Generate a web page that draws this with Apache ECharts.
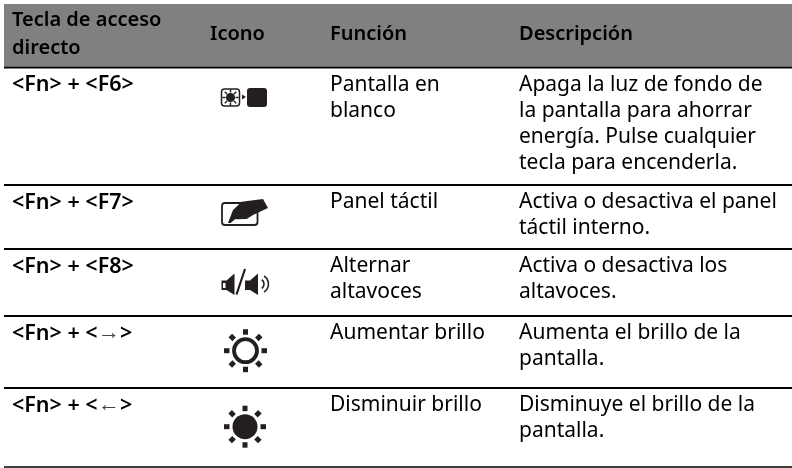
<!DOCTYPE html>
<html>
<head>
<meta charset="utf-8">
<style>
html, body { margin: 0; padding: 0; background: #fff; }
#main { width: 792px; height: 468px; }
</style>
<script src="https://cdn.jsdelivr.net/npm/echarts@6/dist/echarts.min.js"></script>
</head>
<body>
<div id="main"></div>
<script>
// contenido de la tabla
const headers = ['Tecla de acceso\ndirecto', 'Icono', 'Función', 'Descripción'];
const hotkeys = ['<Fn> + <F6>', '<Fn> + <F7>', '<Fn> + <F8>', '<Fn> + <→>', '<Fn> + <←>'];
const iconNames = ['screen', 'touchpad', 'speaker', 'brightUp', 'brightDown'];
const functions = ['Pantalla en\nblanco', 'Panel táctil', 'Alternar\naltavoces', 'Aumentar brillo', 'Disminuir brillo'];
const descriptions = [
    'Apaga la luz de fondo de\nla pantalla para ahorrar\nenergía. Pulse cualquier\ntecla para encenderla.',
    'Activa o desactiva el panel\ntáctil interno.',
    'Activa o desactiva los\naltavoces.',
    'Aumenta el brillo de la\npantalla.',
    'Disminuye el brillo de la\npantalla.'
];

const FONT = '"Noto Sans", sans-serif';
const INK = '#231f20';
const colX = [12, 210, 330, 519];
const rowLines = [67.5, 185, 249, 316, 388, 467];
const LINE_H = 26;

function text(x, y, str, font, lineH) {
    return {
        type: 'text', x: x, y: y,
        style: {
            text: str, x: 0, y: 0, fill: '#000',
            font: font + ' ' + FONT,
            lineHeight: lineH || LINE_H, verticalAlign: 'top'
        }
    };
}

// tecla rapida; las flechas van aparte con una fuente fina
function hotkeyText(y, str) {
    const m = str.match(/^(.*)([→←])(.*)$/);
    if (!m) return [text(colX[0], y, str, '600 21.5px')];
    return [
        text(colX[0], y, m[1], '600 21.5px'),
        {
            type: 'text', x: 98, y: y,
            style: { text: m[2], x: 0, y: 0, fill: '#444', font: '22px "Liberation Serif", serif', lineHeight: LINE_H, verticalAlign: 'top' }
        },
        text(120, y, m[3], '600 21.5px')
    ];
}

function sunRays(cx, cy, r0, r1, width) {
    const rays = [];
    for (let i = 0; i < 8; i++) {
        const a = i * Math.PI / 4;
        rays.push({
            type: 'line',
            shape: { x1: cx + Math.cos(a) * r0, y1: cy + Math.sin(a) * r0, x2: cx + Math.cos(a) * r1, y2: cy + Math.sin(a) * r1 },
            style: { stroke: INK, lineWidth: width }
        });
    }
    return rays;
}

function speaker(x, outlined) {
    const body = { type: 'polygon', shape: { points: [[x + 5, 280.5], [x + 13, 273.5], [x + 13, 295], [x + 5, 290], [x, 290], [x, 280.5]] }, style: { fill: INK } };
    const box = { type: 'rect', shape: { x: x + 1.5, y: 283, width: 2.5, height: 5 }, style: { fill: '#fff' } };
    return outlined ? [body, box] : [body];
}

function drawIcon(name) {
    if (name === 'screen') {
        return [
            { type: 'rect', shape: { x: 221.5, y: 89, width: 18, height: 17, r: 3 }, style: { fill: '#fff', stroke: INK, lineWidth: 1.5 } },
            { type: 'circle', shape: { cx: 230.5, cy: 97.5, r: 4.6 }, style: { fill: INK } },
            ...sunRays(230.5, 97.5, 5, 8, 1.5),
            { type: 'polygon', shape: { points: [[242, 94.5], [246, 97], [242, 99.5]] }, style: { fill: INK } },
            { type: 'rect', shape: { x: 247, y: 88, width: 20, height: 19, r: 3 }, style: { fill: INK } }
        ];
    }
    if (name === 'touchpad') {
        return [
            { type: 'rect', shape: { x: 222, y: 203, width: 35.5, height: 22, r: 3 }, style: { fill: '#fff', stroke: INK, lineWidth: 1.8 } },
            { type: 'polygon', shape: { points: [[228, 223], [233, 210], [241.7, 201.7], [263, 199], [268, 208], [253, 215], [246.7, 219], [235, 219.3], [230.7, 223]] }, style: { fill: INK } }
        ];
    }
    if (name === 'speaker') {
        return [
            ...speaker(221.5, true),
            { type: 'line', shape: { x1: 245, y1: 269, x2: 236.5, y2: 294.5 }, style: { stroke: INK, lineWidth: 2.2 } },
            ...speaker(245, false),
            { type: 'arc', shape: { cx: 259, cy: 284, r: 5, startAngle: -1, endAngle: 1, clockwise: true }, style: { fill: 'none', stroke: INK, lineWidth: 1.6 } },
            { type: 'arc', shape: { cx: 259, cy: 284, r: 9.5, startAngle: -1, endAngle: 1, clockwise: true }, style: { fill: 'none', stroke: INK, lineWidth: 1.6 } }
        ];
    }
    if (name === 'brightUp') {
        return [
            { type: 'circle', shape: { cx: 245.5, cy: 350.7, r: 11.5 }, style: { fill: '#fff', stroke: INK, lineWidth: 3.8 } },
            ...sunRays(245.5, 350.7, 16, 21.5, 5)
        ];
    }
    return [
        { type: 'circle', shape: { cx: 245, cy: 426.7, r: 12.5 }, style: { fill: INK } },
        ...sunRays(245, 426.7, 15.5, 21, 5)
    ];
}

function buildElements() {
    const els = [];
    // cabecera
    els.push({ type: 'rect', shape: { x: 4, y: 4, width: 788, height: 62.5 }, style: { fill: '#808080' } });
    headers.forEach(function (h, i) {
        const lines = h.split('\n').length;
        els.push(text(colX[i], 34.5 - lines * 28 / 2, h, '600 20px', 28));
    });
    // lineas de fila
    rowLines.forEach(function (y, i) {
        els.push({ type: 'line', shape: { x1: 4, y1: y, x2: 792, y2: y }, style: { stroke: '#000', lineWidth: i === 5 ? 1.5 : 2 } });
    });
    // filas
    hotkeys.forEach(function (k, i) {
        const top = rowLines[i] + 4.5;
        els.push(...hotkeyText(top, k));
        els.push(text(colX[2], top, functions[i], '21px'));
        els.push(text(colX[3], top, descriptions[i], '21px'));
        els.push(...drawIcon(iconNames[i]));
    });
    return els;
}

const chart = echarts.init(document.getElementById('main'));
chart.setOption({
    animation: false,
    backgroundColor: '#fff',
    graphic: { elements: buildElements() }
});
</script>
</body>
</html>
